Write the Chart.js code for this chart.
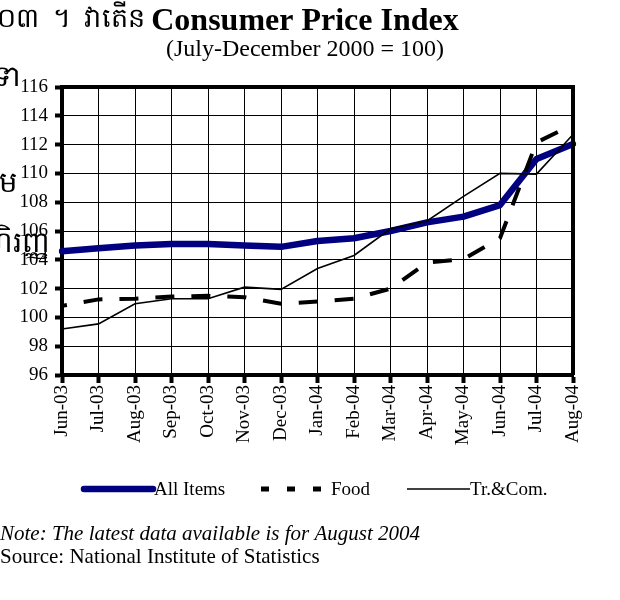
<!DOCTYPE html>
<html>
<head>
<meta charset="utf-8">
<script src="https://cdn.jsdelivr.net/npm/chart.js@4"></script>
<style>
  body { margin: 0; background: #fff; }
  #wrap { width: 620px; height: 600px; }
</style>
</head>
<body>
<div id="wrap"><canvas id="cpiChart" width="620" height="600"></canvas></div>
<script>
// data
const months = ["Jun-03", "Jul-03", "Aug-03", "Sep-03", "Oct-03", "Nov-03", "Dec-03",
  "Jan-04", "Feb-04", "Mar-04", "Apr-04", "May-04", "Jun-04", "Jul-04", "Aug-04"];
const allItems = [104.6, 104.8, 105.0, 105.1, 105.1, 105.0, 104.9, 105.3, 105.5, 106.0, 106.6, 107.0, 107.8, 111.0, 112.05];
const food = [100.8, 101.25, 101.3, 101.45, 101.5, 101.4, 100.95, 101.1, 101.3, 102.0, 103.8, 104.05, 105.5, 112.15, 113.4];
const trCom = [99.2, 99.55, 100.95, 101.3, 101.3, 102.1, 101.95, 103.4, 104.3, 106.15, 106.7, 108.4, 110.0, 109.95, 112.7];
const seriesNames = ["All Items", "Food", "Tr.&Com."];
const yMin = 96, yMax = 116, yStep = 2;

const titleText = "Consumer Price Index";
const subtitleText = "(July-December 2000 = 100)";
const khmerTitle = "០៣  ។  វាតើន";
// pieces of the Khmer side caption, cut off by the left edge
const khmerSide = [["ទា", 20, 86], ["ម", 17, 192], ["ហិរញ្ញ", 50, 252]];
const noteText = "Note: The latest data available is for August 2004";
const sourceText = "Source: National Institute of Statistics";

const serif = "'Liberation Serif', 'Times New Roman', serif";

// frame, titles, legend and notes
const decor = {
  id: "decor",
  afterDatasetsDraw(chart) {
    const ctx = chart.ctx;
    const a = chart.chartArea;
    ctx.save();
    ctx.strokeStyle = "#000";
    ctx.lineWidth = 4;
    ctx.beginPath();
    ctx.moveTo(a.left, a.top);
    ctx.lineTo(a.right, a.top);
    ctx.lineTo(a.right, a.bottom);
    ctx.stroke();
    ctx.restore();
  },
  afterDraw(chart) {
    const ctx = chart.ctx;
    ctx.save();
    ctx.fillStyle = "#000";
    ctx.textBaseline = "alphabetic";

    ctx.font = "bold 32px " + serif;
    ctx.textAlign = "center";
    ctx.fillText(titleText, 305, 30);
    ctx.font = "24px " + serif;
    ctx.fillText(subtitleText, 305, 56);

    ctx.font = "27px " + serif;
    ctx.textAlign = "right";
    ctx.fillText(khmerTitle, 145, 27);
    ctx.font = "29px " + serif;
    khmerSide.forEach(k => ctx.fillText(k[0], k[1], k[2]));

    // legend
    const ds = chart.data.datasets;
    const samples = [[84, 153, 154], [261, 321, 331], [407, 470, 470]];
    const ly = 489;
    ctx.font = "19px " + serif;
    ctx.textAlign = "left";
    ctx.textBaseline = "middle";
    ds.forEach((d, i) => {
      const s = samples[i];
      ctx.save();
      ctx.strokeStyle = d.borderColor;
      ctx.lineWidth = d.borderWidth;
      ctx.lineCap = i === 0 ? "round" : "butt";
      if (i === 1) {
        ctx.lineWidth = 5;
        ctx.setLineDash([8, 18]);
      }
      ctx.beginPath();
      ctx.moveTo(s[0], ly);
      ctx.lineTo(s[1], ly);
      ctx.stroke();
      ctx.restore();
      ctx.fillText(d.label, s[2], ly + 1);
    });

    ctx.textBaseline = "alphabetic";
    ctx.font = "italic 21px " + serif;
    ctx.fillText(noteText, 0, 540);
    ctx.font = "21px " + serif;
    ctx.fillText(sourceText, 0, 563);
    ctx.restore();
  }
};

const ctx = document.getElementById("cpiChart").getContext("2d");
new Chart(ctx, {
  type: "line",
  data: {
    labels: months,
    datasets: [{
      label: seriesNames[0],
      data: allItems,
      borderColor: "#000080",
      borderWidth: 6.5,
      borderCapStyle: "round",
      borderJoinStyle: "round",
      pointRadius: 0,
      tension: 0,
      order: 3
    }, {
      label: seriesNames[1],
      data: food,
      borderColor: "#000",
      borderWidth: 4,
      borderDash: [19, 17],
      borderDashOffset: 14,
      pointRadius: 0,
      tension: 0,
      order: 2
    }, {
      label: seriesNames[2],
      data: trCom,
      borderColor: "#000",
      borderWidth: 1.6,
      pointRadius: 0,
      tension: 0,
      order: 1
    }]
  },
  options: {
    responsive: false,
    animation: false,
    layout: { padding: { left: 0, right: 47, top: 87, bottom: 130 } },
    plugins: {
      legend: { display: false },
      tooltip: { enabled: false }
    },
    scales: {
      x: {
        offset: false,
        grid: { color: "#000", lineWidth: 1, tickLength: 8, tickWidth: 4, tickColor: "#000" },
        border: { display: true, width: 4, color: "#000" },
        ticks: { color: "#000", font: { family: serif, size: 19 }, minRotation: 90, maxRotation: 90, padding: 2, autoSkip: false },
        afterFit(scale) { scale.height = 95; }
      },
      y: {
        min: yMin,
        max: yMax,
        grid: { color: "#000", lineWidth: 1, tickLength: 7, tickWidth: 4, tickColor: "#000" },
        border: { display: true, width: 4, color: "#000" },
        ticks: { stepSize: yStep, color: "#000", font: { family: serif, size: 19 }, padding: 7 },
        afterFit(scale) { scale.width = 62; }
      }
    }
  },
  plugins: [decor]
});
</script>
</body>
</html>
